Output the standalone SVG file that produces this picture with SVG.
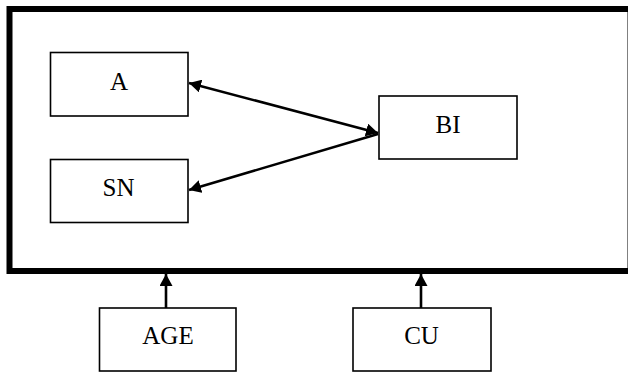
<svg xmlns="http://www.w3.org/2000/svg" width="628" height="373" viewBox="0 0 628 373">
<style>
.box{fill:#fff;stroke:#000;stroke-width:1.6}
.lbl{font-family:"Liberation Serif","Times New Roman",serif;font-size:25px;text-anchor:middle;fill:#000}
.con{stroke:#000;stroke-width:2.6;fill:none}
</style>
<defs>
<marker id="ah" viewBox="0 0 12 13" refX="12" refY="6.5" markerWidth="12" markerHeight="13" markerUnits="userSpaceOnUse" orient="auto-start-reverse">
<path d="M0,0 L12,6.5 L0,13 Z" fill="#000"/>
</marker>
</defs>
<g id="frame">
<rect x="9.5" y="9" width="621" height="262" fill="#fff" stroke="#000" stroke-width="6"/>
</g>
<g id="node-A">
<rect class="box" x="50.5" y="52.5" width="137.5" height="63.5"/>
<text class="lbl" x="119" y="89.5">A</text>
</g>
<g id="node-SN">
<rect class="box" x="50.5" y="159.5" width="137.5" height="63"/>
<text class="lbl" x="118.5" y="196">SN</text>
</g>
<g id="node-BI">
<rect class="box" x="379" y="96" width="138" height="63"/>
<text class="lbl" x="448" y="132.5">BI</text>
</g>
<g id="node-AGE">
<rect class="box" x="99.5" y="308" width="136.5" height="63"/>
<text class="lbl" x="168" y="344">AGE</text>
</g>
<g id="node-CU">
<rect class="box" x="353" y="308" width="138" height="63"/>
<text class="lbl" x="421.5" y="344">CU</text>
</g>
<g id="connectors">
<line class="con" x1="189" y1="83" x2="378" y2="133" marker-start="url(#ah)" marker-end="url(#ah)"/>
<line class="con" x1="189" y1="190" x2="378" y2="134" marker-start="url(#ah)"/>
<line class="con" x1="166" y1="308" x2="166" y2="274" marker-end="url(#ah)"/>
<line class="con" x1="421" y1="308" x2="421" y2="274" marker-end="url(#ah)"/>
</g>
</svg>
